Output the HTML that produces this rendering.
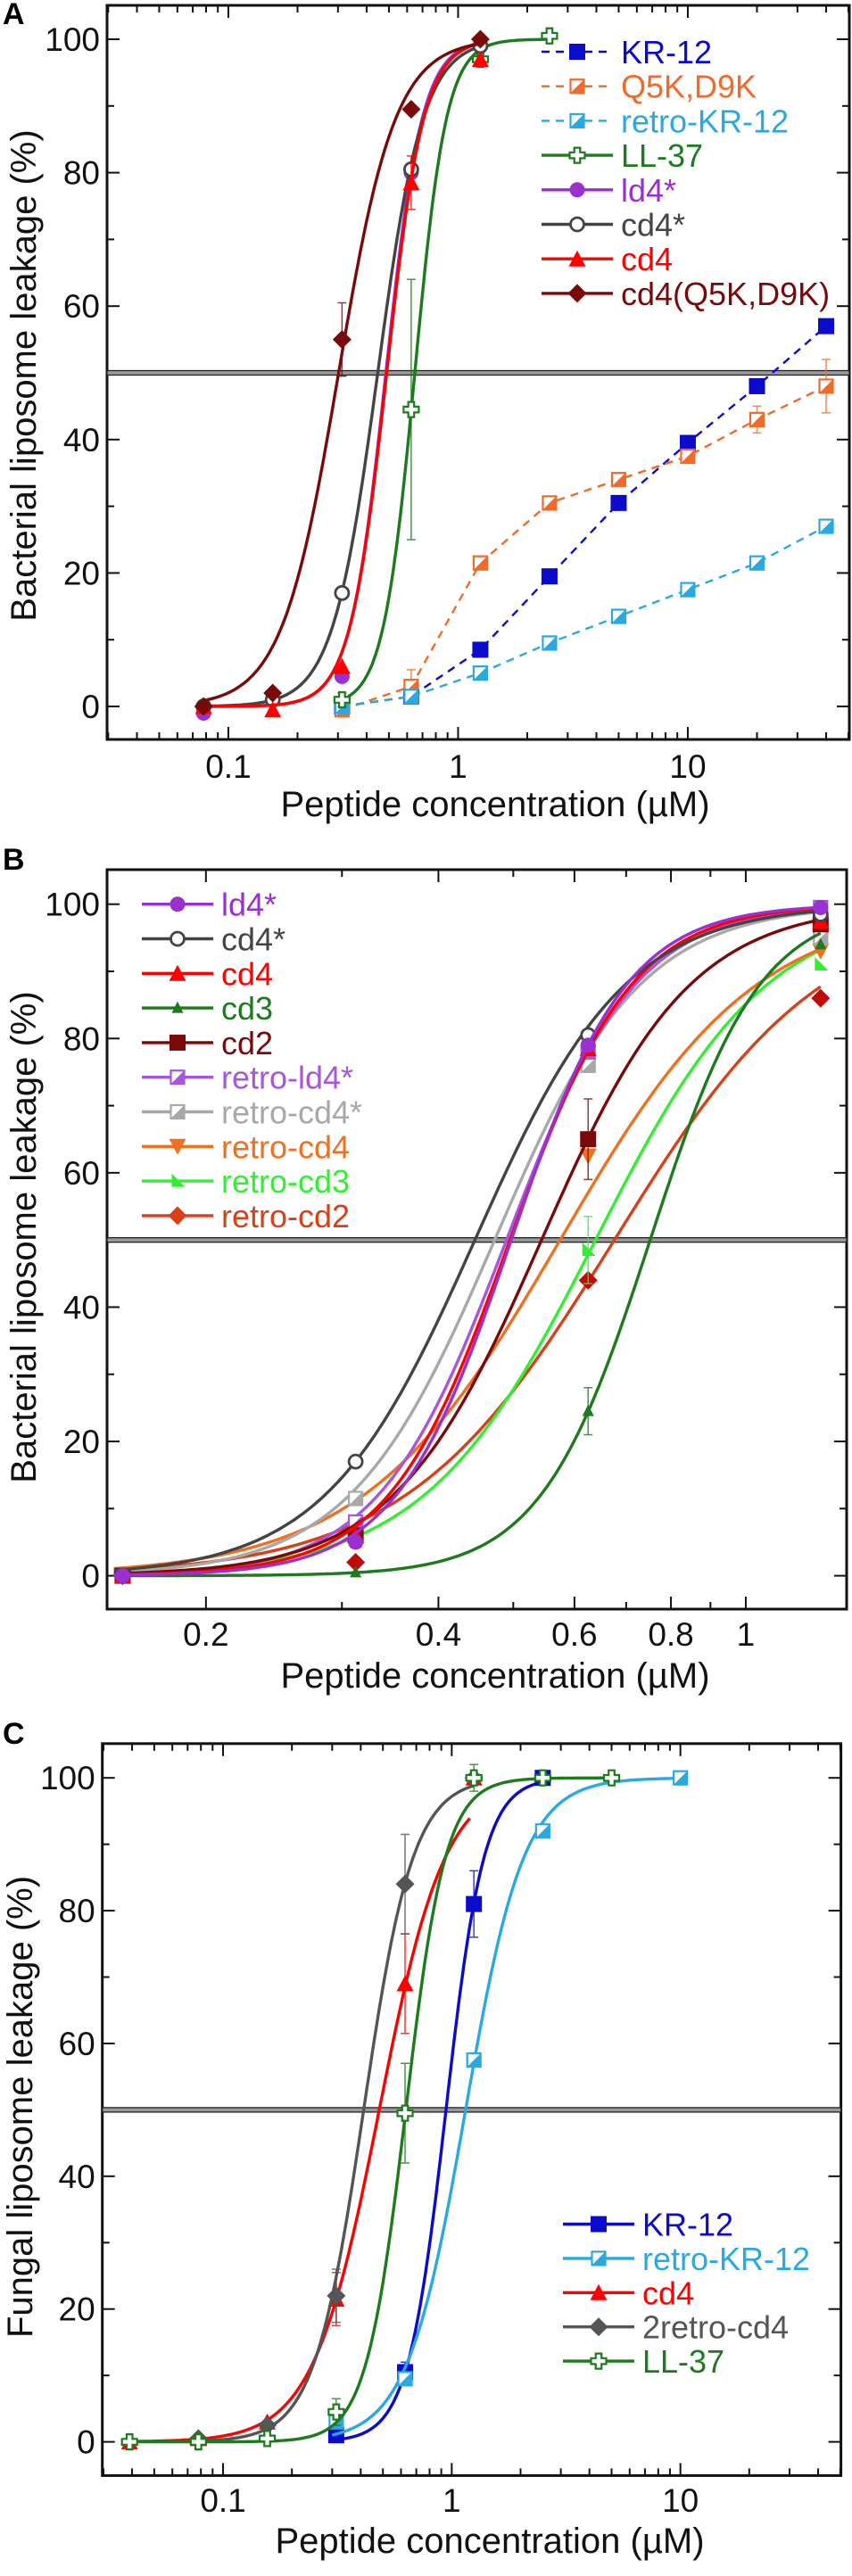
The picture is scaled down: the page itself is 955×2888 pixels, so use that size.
<!DOCTYPE html>
<html><head><meta charset="utf-8"><style>
html,body{margin:0;padding:0;background:#fff}
svg{display:block;font-family:"Liberation Sans",Arial,sans-serif}
</style></head><body>
<svg id="fig" width="955" height="2888" viewBox="0 0 955 2888" xmlns="http://www.w3.org/2000/svg"></svg>
<script>
// ---------- DATA ----------
const concA=[0.078,0.156,0.3125,0.625,1.25,2.5,5,10,20,40];
const A_kr12=[null,null,0,1.5,8.5,19.5,30.5,39.5,48,57];
const A_q5k=[null,null,-0.5,3,21.5,30.5,34,37.5,43,48];
const A_rkr12=[null,null,0,1.5,5,9.5,13.5,17.5,21.5,27];
const A_ll37=[null,null,1,44.5,97,100.5,null,null,null,null];
const A_ld4s=[-1,null,4.5,80,99,null,null,null,null,null];
const A_cd4s=[0,1,17,80.5,99,null,null,null,null,null];
const A_cd4=[0,-0.5,6,78.5,97,null,null,null,null,null];
const A_cd4q=[0,2,55,89.5,100,null,null,null,null,null];
const A_errLL37=[0,0,1,19.5,0,0,0,0,0,0];
const A_errCd4q=[0,0,5.5,0,0,0,0,0,0,0];
const A_errQ5k=[0,0,0,2.5,0,0,0,0,2,4];
const A_errCd4=[0,0,0,4,0,0,0,0,0,0];
const A_fitEC50=[0.648,0.485,0.447,0.489,0.302];
const A_fitHill=[6.3,5.5,4.4,5.4,3.5];

const concB=[0.156,0.3125,0.625,1.25];
const B_ld4s=[0,5,79,99.5];
const B_cd4s=[0,17,80.5,98.5];
const B_cd4=[0,6,78.5,97.5];
const B_cd3=[0,0.5,24.5,94];
const B_cd2=[0,6,65,97];
const B_rld4s=[0,8,78,99.5];
const B_rcd4s=[0,11.5,76,95];
const B_rcd4=[0,5.5,62.5,93];
const B_rcd3=[0,5,48.5,91];
const B_rcd2=[0,2,44,86];
const B_errCd3=[0,0,3.5,0];
const B_errCd2=[0,0,6,0];
const B_errRcd3=[0,0,5,0];
const B_fitEC50=[0.497,0.446,0.495,0.752,0.544,0.49,0.473,0.575,0.639,0.676];
const B_fitHill=[5.8,4.45,5.5,6.1,4.5,5.2,4.6,3.4,3.9,3.2];

const concC=[0.039,0.078,0.156,0.3125,0.625,1.25,2.5,5,10];
const C_kr12=[null,null,null,1,10.5,81,100,null,null];
const C_rkr12=[null,null,null,3,9.5,57.5,92,null,100];
const C_cd4=[0,0.5,3,21.5,69,100,null,null,null];
const C_2rcd4=[null,0.5,2.5,22,84,100,null,null,null];
const C_ll37=[0,0,0.5,4.5,49.5,100,100,100,null];
const C_errKr12=[0,0,0,0,1.5,5,0,0,0];
const C_errCd4=[0,0,0,4,7.5,0,0,0,0];
const C_err2rcd4=[0,0,0,4,7.5,0,0,0,0];
const C_errLl37=[0,0,0,2,7.5,2,0,0,0];
const C_fitEC50=[0.944,1.15,0.482,0.412,0.63];
const C_fitHill=[5.2,3.4,3.0,4.0,5.0];

// ---------- DRAW ----------
const NS="http://www.w3.org/2000/svg";
const svg=document.getElementById('fig');
function el(tag,attrs,parent){const e=document.createElementNS(NS,tag);for(const k in attrs)e.setAttribute(k,attrs[k]);(parent||svg).appendChild(e);return e;}
function txt(s,attrs,parent){const e=el('text',attrs,parent);e.textContent=s;return e;}

function makePanel(p){
  const g=el('g',{});
  
  
  p.g=g;
  p.xs=v=>p.L+(Math.log10(v)-p.lx0)/(p.lx1-p.lx0)*(p.R-p.L);
  p.ys=v=>p.y0+(p.y100-p.y0)*v/100;
  return p;
}
function drawAxes(p){
  const g=p.g;
  const fr=el('rect',{x:p.L,y:p.T,width:p.R-p.L,height:p.B-p.T,fill:'none',stroke:'#111','stroke-width':3},g);
  
  for(let v=0;v<=100;v+=10){
    const y=p.ys(v),len=v%20===0?14:8;
    el('line',{x1:p.L,y1:y,x2:p.L+len,y2:y,stroke:'#111','stroke-width':2},g);
    el('line',{x1:p.R,y1:y,x2:p.R-len,y2:y,stroke:'#111','stroke-width':2},g);
    if(v%20===0){const t=txt(String(v),{x:p.L-8,y:y+13,'font-size':37,'text-anchor':'end',fill:'#111'},g);
      }
  }
  for(let d=-3;d<=2;d++)for(let k=1;k<=9;k++){
    const v=k*Math.pow(10,d),lv=Math.log10(v);
    if(lv<p.lx0+0.001||lv>p.lx1-0.001)continue;
    const x=p.xs(v),major=p.majors.indexOf(+v.toPrecision(3))>=0,len=major?14:8;
    el('line',{x1:x,y1:p.B,x2:x,y2:p.B-len,stroke:'#111','stroke-width':2},g);
    el('line',{x1:x,y1:p.T,x2:x,y2:p.T+len,stroke:'#111','stroke-width':2},g);
  }
  p.xlabels.forEach(v=>{const t=txt(String(v),{x:p.xs(v),y:p.tickY,'font-size':37,'text-anchor':'middle',fill:'#111'},g);
    });
  const xt=txt('Peptide concentration (µM)',{x:p.xtX,y:p.xtY,'font-size':40,'text-anchor':'middle',fill:'#111'},g);
  
  const yt=txt(p.ytitle,{x:0,y:0,'font-size':40,'text-anchor':'middle',fill:'#111',transform:`translate(${p.ytX},${p.ytY}) rotate(-90)`},g);
  
  const lt=txt(p.id,{x:p.letX,y:p.letY,'font-size':34,'font-weight':'bold',fill:'#000'},g);
  
  const hl=el('rect',{x:p.L,y:p.ys(50)-2.5,width:p.R-p.L,height:5,fill:'#9a9a9a',stroke:'#222','stroke-width':1.3},g);
  
}
function marker(type,x,y,c,parent,s){
  s=s||8.5;let m;
  if(type==='sq')m=el('rect',{x:x-s,y:y-s,width:2*s,height:2*s,fill:c,stroke:c,'stroke-width':1},parent);
  else if(type==='hsq'){m=el('g',{},parent);
    el('rect',{x:x-s+1,y:y-s+1,width:2*s-2,height:2*s-2,fill:'#fff',stroke:c,'stroke-width':2.2},m);
    el('polygon',{points:`${x+s-1},${y-s+1} ${x+s-1},${y+s-1} ${x-s+1},${y+s-1}`,fill:c},m);}
  else if(type==='circ')m=el('circle',{cx:x,cy:y,r:s,fill:c},parent);
  else if(type==='ocirc')m=el('circle',{cx:x,cy:y,r:s-1,fill:'#fff',stroke:c,'stroke-width':2.8},parent);
  else if(type==='tri')m=el('polygon',{points:`${x},${y-s-1} ${x+s+1},${y+s} ${x-s-1},${y+s}`,fill:c},parent);
  else if(type==='stri')m=el('polygon',{points:`${x},${y-s+1} ${x+s-2},${y+s-3} ${x-s+2},${y+s-3}`,fill:c},parent);
  else if(type==='tridown')m=el('polygon',{points:`${x},${y+s+1} ${x+s+1},${y-s} ${x-s-1},${y-s}`,fill:c},parent);
  else if(type==='trir')m=el('polygon',{points:`${x-s+2},${y-s} ${x+s},${y+s-2} ${x-s+2},${y+s-2}`,fill:c},parent);
  else if(type==='dia')m=el('polygon',{points:`${x},${y-s-2} ${x+s+2},${y} ${x},${y+s+2} ${x-s-2},${y}`,fill:c},parent);
  else if(type==='cross'){const a=s,b=s/2.6;
    m=el('polygon',{points:`${x-b},${y-a} ${x+b},${y-a} ${x+b},${y-b} ${x+a},${y-b} ${x+a},${y+b} ${x+b},${y+b} ${x+b},${y+a} ${x-b},${y+a} ${x-b},${y+b} ${x-a},${y+b} ${x-a},${y-b} ${x-b},${y-b}`,fill:'#fff',stroke:c,'stroke-width':2.2},parent);}
  
  
  return m;
}
function drawSeries(p,s,conc){
  const g=el('g',{},p.g);
  
  
  let d='';
  if(s.ec50){
    const a=Math.log10(s.from),b=Math.log10(s.to);
    for(let i=0;i<=160;i++){const v=Math.pow(10,a+(b-a)*i/160);const yv=100/(1+Math.pow(s.ec50/v,s.hill));
      d+=(i?'L':'M')+p.xs(v).toFixed(1)+','+p.ys(yv).toFixed(1);}
  }else{
    conc.forEach((c,i)=>{const v=s.data[i];if(v==null)return;d+=(d?'L':'M')+p.xs(c).toFixed(1)+','+p.ys(v).toFixed(1);});
  }
  const ln=el('path',{d,fill:'none',stroke:s.color,'stroke-width':s.dash?2.4:3.4,'stroke-dasharray':s.dash?'9,7':'none'},g);
  
  
  if(s.err)conc.forEach((c,i)=>{const v=s.data[i],e=s.err[i];if(v==null||!e)return;
    const x=p.xs(c),eb=el('path',{d:`M${x},${p.ys(v-e)}V${p.ys(v+e)}M${x-5},${p.ys(v-e)}h10M${x-5},${p.ys(v+e)}h10`,stroke:s.color,'stroke-width':1.5,fill:'none',opacity:0.8},g);
    
    });
  conc.forEach((c,i)=>{const v=s.data[i];if(v==null)return;marker(s.mk,p.xs(c),p.ys(v),s.mcolor||s.color,g);});
}
function legend(p,list,lx,ly,dy){
  const g=el('g',{},p.g);
  
  
  list.forEach((s,i)=>{const y=ly+i*dy;
    const e=el('g',{},g);
    
    
    el('line',{x1:lx,y1:y,x2:lx+80,y2:y,stroke:s.color,'stroke-width':s.dash?2.4:3.4,'stroke-dasharray':s.dash?'9,7':'none'},e);
    marker(s.mk,lx+40,y,s.color,e);
    txt(s.name,{x:lx+89,y:y+13,'font-size':36,fill:s.color},e);
  });
}

// Panel A
const pA=makePanel({id:'A',L:120,R:952,T:6,B:829,lx0:-1.528,lx1:1.703,y0:792,y100:44,majors:[0.1,1,10],xlabels:[0.1,1,10],tickY:872,xtX:555,xtY:915,ytitle:'Bacterial liposome leakage (%)',ytX:40,ytY:421,letX:3,letY:27});
drawAxes(pA);
const sA=[
 {name:'KR-12',color:'#0b0bcc',mk:'sq',dash:1,data:A_kr12},
 {name:'Q5K,D9K',color:'#f26a2a',mk:'hsq',dash:1,data:A_q5k,err:A_errQ5k},
 {name:'retro-KR-12',color:'#2aa9e0',mk:'hsq',dash:1,data:A_rkr12},
 {name:'LL-37',color:'#1d7a1d',mk:'cross',data:A_ll37,err:A_errLL37,ec50:A_fitEC50[0],hill:A_fitHill[0],from:0.3,to:2.5},
 {name:'ld4*',color:'#9b30d0',mk:'circ',data:A_ld4s,ec50:A_fitEC50[1],hill:A_fitHill[1],from:0.078,to:1.25},
 {name:'cd4*',color:'#444',mk:'ocirc',data:A_cd4s,ec50:A_fitEC50[2],hill:A_fitHill[2],from:0.078,to:1.25},
 {name:'cd4',color:'#ff0000',mk:'tri',data:A_cd4,err:A_errCd4,ec50:A_fitEC50[3],hill:A_fitHill[3],from:0.078,to:1.25},
 {name:'cd4(Q5K,D9K)',color:'#7a0a0a',mk:'dia',data:A_cd4q,err:A_errCd4q,ec50:A_fitEC50[4],hill:A_fitHill[4],from:0.078,to:1.25}];
sA.forEach(s=>drawSeries(pA,s,concA));
legend(pA,sA,607,58,38.7);

// Panel B
const pB=makePanel({id:'B',L:120,R:949,T:975,B:1804,lx0:-0.827,lx1:0.1306,y0:1766.6,y100:1013.7,majors:[0.2,0.4,0.6,0.8,1],xlabels:[0.2,0.4,0.6,0.8,1],tickY:1845,xtX:555,xtY:1892,ytitle:'Bacterial liposome leakage (%)',ytX:40,ytY:1387,letX:3,letY:975});
drawAxes(pB);
const sB=[
 {name:'ld4*',color:'#9b30d0',mk:'circ',data:B_ld4s},
 {name:'cd4*',color:'#444',mk:'ocirc',data:B_cd4s},
 {name:'cd4',color:'#ff0000',mk:'tri',data:B_cd4},
 {name:'cd3',color:'#1d7a1d',mk:'stri',data:B_cd3,err:B_errCd3},
 {name:'cd2',color:'#7a0a0a',mk:'sq',data:B_cd2,err:B_errCd2},
 {name:'retro-ld4*',color:'#a855e0',mk:'hsq',data:B_rld4s},
 {name:'retro-cd4*',color:'#a8a8a8',mk:'hsq',data:B_rcd4s},
 {name:'retro-cd4',color:'#f07020',mk:'tridown',data:B_rcd4},
 {name:'retro-cd3',color:'#33ee33',mk:'trir',data:B_rcd3,err:B_errRcd3},
 {name:'retro-cd2',color:'#d8401a',mk:'dia',data:B_rcd2,mcolor:'#c00a0a'}];
sB.forEach((s,i)=>{s.ec50=B_fitEC50[i];s.hill=B_fitHill[i];s.from=0.152;s.to=1.25;});
[...sB].reverse().forEach(s=>drawSeries(pB,s,concB));
legend(pB,sB,159,1013.7,38.8);

// Panel C
const pC=makePanel({id:'C',L:114.7,R:942.6,T:1954.8,B:2775.4,lx0:-1.528,lx1:1.702,y0:2737.6,y100:1993.2,majors:[0.1,1,10],xlabels:[0.1,1,10],tickY:2816,xtX:549,xtY:2862,ytitle:'Fungal liposome leakage (%)',ytX:36,ytY:2362,letX:3,letY:1955});
drawAxes(pC);
const sC=[
 {name:'KR-12',color:'#0b0bcc',mk:'sq',data:C_kr12,err:C_errKr12,ec50:C_fitEC50[0],hill:C_fitHill[0],from:0.3,to:2.5},
 {name:'retro-KR-12',color:'#2aa9e0',mk:'hsq',data:C_rkr12,ec50:C_fitEC50[1],hill:C_fitHill[1],from:0.3,to:10},
 {name:'cd4',color:'#ff0000',mk:'tri',data:C_cd4,err:C_errCd4,ec50:C_fitEC50[2],hill:C_fitHill[2],from:0.039,to:1.2},
 {name:'2retro-cd4',color:'#555',mk:'dia',data:C_2rcd4,err:C_err2rcd4,ec50:C_fitEC50[3],hill:C_fitHill[3],from:0.078,to:1.25},
 {name:'LL-37',color:'#1d7a1d',mk:'cross',data:C_ll37,err:C_errLl37,ec50:C_fitEC50[4],hill:C_fitHill[4],from:0.039,to:5}];
sC.forEach(s=>drawSeries(pC,s,concC));
legend(pC,sC,631,2493.5,38.4);
</script>
</body></html>
